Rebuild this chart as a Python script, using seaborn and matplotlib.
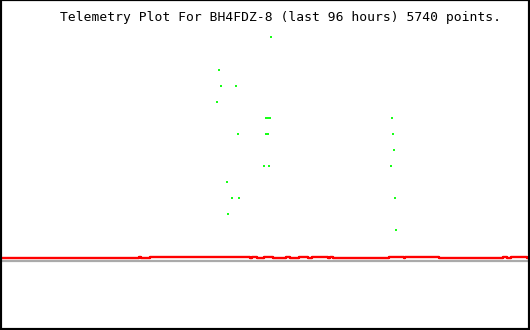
import matplotlib
matplotlib.use("Agg")
import matplotlib.pyplot as plt
import seaborn as sns
import pandas as pd

# ---- data (time axis in plot units 0..530, value axis 0..330) ----
title = "Telemetry Plot For BH4FDZ-8 (last 96 hours) 5740 points."

red_x = [0, 139, 141, 150, 250, 252, 257, 264, 273, 286, 290, 299, 308, 312,
         328, 330, 333, 389, 404, 405, 439, 503, 507, 511, 527, 530]
red_y = [72, 73, 72, 73, 72, 73, 72, 73, 72, 73, 72, 73, 72, 73,
         72, 73, 72, 73, 72, 73, 72, 73, 72, 73, 72, 72]

gray_x = [0, 530]
gray_y = [69, 69]

green_x = [271, 219, 221, 236, 217, 266, 268, 270, 238, 266, 268, 264, 269,
           227, 232, 239, 228, 392, 393, 394, 391, 395, 396]
green_y = [293, 260, 244, 244, 228, 212, 212, 212, 196, 196, 196, 164, 164,
           148, 132, 132, 116, 212, 196, 180, 164, 132, 100]

sns.set_style("white")
fig = plt.figure(figsize=(5.3, 3.3), dpi=100)
ax = fig.add_axes([0, 0, 1, 1])

red_df = pd.DataFrame({"t": red_x, "v": red_y})
gray_df = pd.DataFrame({"t": gray_x, "v": gray_y})
green_df = pd.DataFrame({"t": green_x, "v": green_y})

sns.lineplot(data=gray_df, x="t", y="v", ax=ax, color="#aaaaaa",
             linewidth=1.6, estimator=None, sort=False)
sns.lineplot(data=red_df, x="t", y="v", ax=ax, color="#ff0000",
             linewidth=1.7, drawstyle="steps-post", estimator=None, sort=False)
sns.scatterplot(data=green_df, x="t", y="v", ax=ax, marker="|", s=3,
                linewidth=1.3, color="#00ff00", edgecolor="#00ff00")

ax.set_xlim(0, 530)
ax.set_ylim(0, 330)
ax.set_xticks([])
ax.set_yticks([])
ax.set_xlabel("")
ax.set_ylabel("")
for s in ["left", "right", "bottom"]:
    ax.spines[s].set_visible(True)
    ax.spines[s].set_color("black")
    ax.spines[s].set_linewidth(3)
ax.spines["top"].set_color("black")
ax.spines["top"].set_linewidth(1.6)

ax.text(280, 313, title, ha="center", va="center", fontsize=9.4,
        family="DejaVu Sans Mono", color="black")

fig.savefig("out.png", dpi=100, facecolor="white")
